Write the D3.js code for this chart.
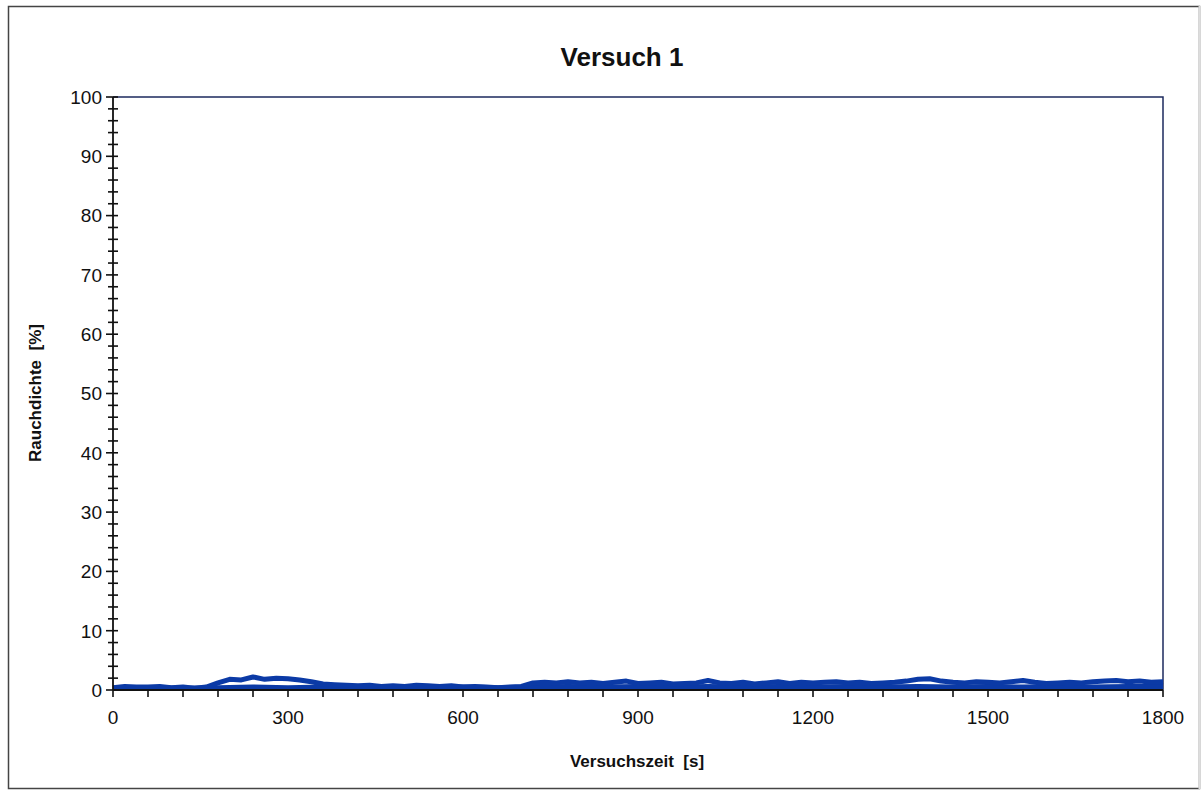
<!DOCTYPE html>
<html><head><meta charset="utf-8">
<script src="https://cdn.jsdelivr.net/npm/d3@7"></script>
<style>body{margin:0;background:#fff;}svg{display:block;font-family:Arial,"Liberation Sans",sans-serif;}</style>
</head><body>
<svg id="c" width="1202" height="790"></svg>
<script>
const title = "Versuch 1";
const xLabel = "Versuchszeit\u00a0\u00a0[s]";
const yLabel = "Rauchdichte\u00a0\u00a0[%]";
const xTickValues = [0, 300, 600, 900, 1200, 1500, 1800];
const yTickValues = [0, 10, 20, 30, 40, 50, 60, 70, 80, 90, 100];
// series A: time step 20 s, 0..1800
const timeA = d3.range(0, 1801, 20);
const valuesA = [0.4,0.6,0.5,0.5,0.6,0.4,0.5,0.3,0.5,
  1.2,1.8,1.7,2.2,1.8,2.0,1.9,1.7,1.4,1.0,0.9,
  0.8,0.7,0.8,0.6,0.7,0.6,0.8,0.7,0.6,0.7,
  0.5,0.6,0.5,0.4,0.5,0.6,1.2,1.3,1.2,1.4,
  1.2,1.3,1.1,1.3,1.5,1.1,1.2,1.3,1.0,1.1,
  1.2,1.6,1.2,1.1,1.3,1.0,1.2,1.4,1.1,1.3,
  1.2,1.3,1.4,1.2,1.3,1.1,1.2,1.3,1.5,1.8,
  1.9,1.5,1.3,1.2,1.4,1.3,1.2,1.4,1.6,1.3,
  1.1,1.2,1.3,1.2,1.4,1.5,1.6,1.4,1.5,1.3,1.4];
// series B: time step 60 s
const timeB = d3.range(0, 1801, 60);
const valuesB = [0.3,0.4,0.3,0.4,0.5,0.4,0.5,0.4,0.5,0.4,0.5,0.4,0.5,0.6,0.5,0.6,
  0.5,0.6,0.5,0.6,0.5,0.6,0.5,0.6,0.5,0.6,0.5,0.6,0.5,0.6,0.6];
// series C (light): time step 300 s
const timeC = [0, 300, 600, 900, 1200, 1500, 1800];
const valuesC = [0.1, 0.1, 0.1, 0.1, 0.1, 0.1, 0.1];

const svg = d3.select("#c");
const L = 113, R = 1163, T = 97, B = 690;
const x = d3.scaleLinear().domain([0, 1800]).range([L, R]);
const y = d3.scaleLinear().domain([0, 100]).range([B, T]);

// outer frame
svg.append("rect").attr("x", 8.5).attr("y", 6.5).attr("width", 1191).attr("height", 782)
  .attr("fill", "none").attr("stroke", "#444").attr("stroke-width", 1.5);
svg.append("line").attr("x1",1199.5).attr("x2",1199.5).attr("y1",6).attr("y2",789).attr("stroke","#ddd").attr("stroke-width",2);

// plot border (top, right)
svg.append("path").attr("d", `M${L},${T}H${R}V${B}`).attr("fill","none")
  .attr("stroke", "#1c2a5e").attr("stroke-width", 1.5);

// data lines
const line = (ts) => d3.line().x((d,i) => x(ts[i])).y(d => y(d));
svg.append("path").datum(valuesC).attr("d", line(timeC)).attr("fill","none")
  .attr("stroke", "#3d9bff").attr("stroke-width", 3);
svg.append("path").datum(valuesB).attr("d", line(timeB)).attr("fill","none")
  .attr("stroke", "#0b3aa6").attr("stroke-width", 5).attr("stroke-linejoin","round");
svg.append("path").datum(valuesA).attr("d", line(timeA)).attr("fill","none")
  .attr("stroke", "#0b3aa6").attr("stroke-width", 5).attr("stroke-linejoin","round");

// y axis
const yAxis = svg.append("g");
yAxis.append("line").attr("x1", L).attr("x2", L).attr("y1", T).attr("y2", B).attr("stroke", "#111").attr("stroke-width", 1.8);
d3.range(0, 101, 2).forEach(v => {
  const major = v % 10 === 0;
  yAxis.append("line").attr("x1", major ? L - 7 : L - 5).attr("x2", L + 5)
    .attr("y1", y(v)).attr("y2", y(v)).attr("stroke", "#111").attr("stroke-width", 1.6);
});
yAxis.selectAll("text.yt").data(yTickValues).join("text").attr("class","yt")
  .attr("x", L - 11).attr("y", d => y(d)).attr("dy", "0.36em").attr("text-anchor", "end")
  .attr("font-size", 19).attr("fill", "#111").text(d => d);

// x axis
const xAxis = svg.append("g");
xAxis.append("line").attr("x1", L).attr("x2", R).attr("y1", B).attr("y2", B).attr("stroke", "#111").attr("stroke-width", 1.8);
d3.range(0, 1801, 60).forEach(v => {
  xAxis.append("line").attr("x1", x(v)).attr("x2", x(v)).attr("y1", B).attr("y2", B + 7)
    .attr("stroke", "#111").attr("stroke-width", 1.6);
});
xAxis.selectAll("text.xt").data(xTickValues).join("text").attr("class","xt")
  .attr("x", d => x(d)).attr("y", 724).attr("text-anchor", "middle")
  .attr("font-size", 19).attr("fill", "#111").text(d => d);

// titles
svg.append("text").attr("x", 622).attr("y", 66).attr("text-anchor", "middle")
  .attr("font-size", 26).attr("font-weight", "bold").attr("fill", "#111").text(title);
svg.append("text").attr("x", 637).attr("y", 767).attr("text-anchor", "middle")
  .attr("font-size", 17).attr("font-weight", "bold").attr("fill", "#111").text(xLabel);
svg.append("text").attr("transform", "translate(41,393) rotate(-90)").attr("text-anchor", "middle")
  .attr("font-size", 17).attr("font-weight", "bold").attr("fill", "#111").text(yLabel);
</script>
</body></html>
